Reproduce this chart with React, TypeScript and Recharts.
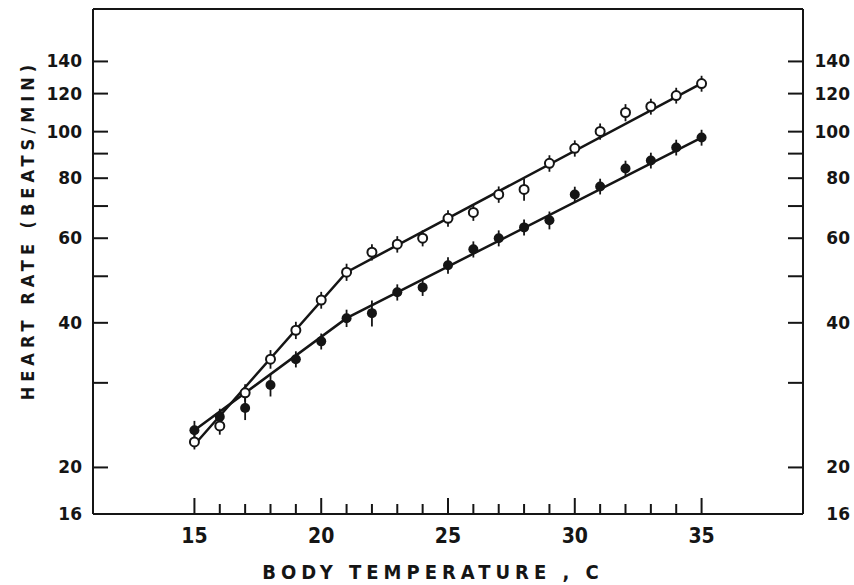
import React from "react";
import {
  ComposedChart,
  Scatter,
  XAxis,
  YAxis,
  ErrorBar,
  ReferenceLine,
  Label,
} from "recharts";

// body temperature (C) for every measured point
const temps = [15, 16, 17, 18, 19, 20, 21, 22, 23, 24, 25, 26, 27, 28, 29, 30, 31, 32, 33, 34, 35];

// open circles
const openRate = [22.6, 24.4, 28.6, 33.6, 38.6, 44.6, 51.0, 56.1, 58.3, 60.0, 66.0, 67.9, 74.0, 75.8, 85.9, 92.3, 100.1, 109.6, 112.8, 118.9, 125.9];
const openErr = [0.8, 1.0, 1.2, 1.5, 1.6, 1.8, 2.1, 2.2, 2.3, 2.3, 2.6, 2.7, 2.9, 4.0, 3.4, 3.6, 3.9, 4.5, 4.3, 4.5, 4.8];

// filled circles
const filledRate = [23.9, 25.5, 26.6, 29.7, 33.6, 36.6, 40.9, 41.9, 46.3, 47.4, 52.7, 56.9, 60.0, 63.2, 65.4, 74.0, 76.9, 83.8, 87.1, 92.7, 97.2];
const filledErr = [1.1, 1.0, 1.5, 1.6, 1.3, 1.4, 1.7, 2.6, 1.8, 1.9, 2.1, 2.2, 2.3, 2.4, 2.8, 2.8, 2.9, 3.2, 3.3, 3.5, 3.7];

// fitted regression lines (break near 21 C)
const openFitTemp = [15, 21, 35];
const openFitRate = [22.3, 51.0, 126.0];
const filledFitTemp = [15, 21, 35];
const filledFitRate = [23.9, 40.9, 97.2];

const xTicks = [15, 16, 17, 18, 19, 20, 21, 22, 23, 24, 25, 26, 27, 28, 29, 30, 31, 32, 33, 34, 35];
const xLabelTicks = [15, 20, 25, 30, 35];
const yTicks = [16, 20, 30, 40, 50, 60, 70, 80, 90, 100, 120, 140];
const yLabelTicks = [16, 20, 40, 60, 80, 100, 120, 140];

const openData = temps.map((t, i) => ({ t, rate: openRate[i], err: openErr[i] }));
const filledData = temps.map((t, i) => ({ t, rate: filledRate[i], err: filledErr[i] }));
const openFit = openFitTemp.map((t, i) => ({ t, rate: openFitRate[i] }));
const filledFit = filledFitTemp.map((t, i) => ({ t, rate: filledFitRate[i] }));

const INK = "#151515";
const tickFont = "'DejaVu Sans', sans-serif";
const narrowFont = "'DejaVu Sans Condensed', 'Liberation Sans Narrow', 'Liberation Sans', sans-serif";

function XTick(props: any) {
  const { x, y, payload } = props;
  const major = xLabelTicks.includes(payload.value);
  return (
    <g>
      <line x1={x} x2={x} y1={y} y2={y - (major ? 16 : 10)} stroke={INK} strokeWidth={2} />
      {major && (
        <text x={x} y={y + 29} textAnchor="middle" fill={INK} fontFamily={narrowFont} fontStretch="condensed" fontWeight={700} fontSize={21}>
          {payload.value}
        </text>
      )}
    </g>
  );
}

function LeftTick(props: any) {
  const { x, y, payload } = props;
  const labeled = yLabelTicks.includes(payload.value);
  return (
    <g>
      {payload.value !== 16 && <line x1={x} x2={x + 15} y1={y} y2={y} stroke={INK} strokeWidth={2} />}
      {labeled && (
        <text x={x - 11} y={y + 6} textAnchor="end" fill={INK} fontFamily={tickFont} fontWeight={700} fontSize={17}>
          {payload.value}
        </text>
      )}
    </g>
  );
}

function RightTick(props: any) {
  const { x, y, payload } = props;
  const labeled = yLabelTicks.includes(payload.value);
  return (
    <g>
      {payload.value !== 16 && <line x1={x - 15} x2={x} y1={y} y2={y} stroke={INK} strokeWidth={2} />}
      {labeled && (
        <text x={x + 47} y={y + 6} textAnchor="end" fill={INK} fontFamily={tickFont} fontWeight={700} fontSize={17}>
          {payload.value}
        </text>
      )}
    </g>
  );
}

function XTitle(props: any) {
  const vb = props.viewBox;
  return (
    <text
      x={vb.x + vb.width / 2 - 15}
      y={vb.y + 65}
      textAnchor="middle"
      fill={INK}
      fontFamily={narrowFont}
      fontStretch="condensed"
      fontWeight={700}
      fontSize={20}
      style={{ letterSpacing: 5 }}
    >
      BODY TEMPERATURE , C
    </text>
  );
}

function YTitle(props: any) {
  const vb = props.viewBox;
  const cx = vb.x + 27;
  const cy = vb.y + 221;
  return (
    <text
      x={cx}
      y={cy}
      transform={`rotate(-90, ${cx}, ${cy})`}
      textAnchor="middle"
      dominantBaseline="central"
      fill={INK}
      fontFamily={narrowFont}
      fontStretch="condensed"
      fontWeight={700}
      fontSize={18}
      style={{ letterSpacing: 5 }}
    >
      HEART RATE (BEATS/MIN)
    </text>
  );
}

const noDot = () => <g />;
const openDot = (p: any) => <circle cx={p.cx} cy={p.cy} r={4.5} fill="#fff" stroke={INK} strokeWidth={2} />;
const filledDot = (p: any) => <circle cx={p.cx} cy={p.cy} r={5} fill={INK} />;

export default function App() {
  return (
    <div style={{ position: "absolute", left: 0, top: 0, background: "#fff" }}>
      <ComposedChart width={854} height={585} margin={{ top: 9, right: 0, bottom: 0, left: 0 }}>
        <XAxis
          type="number"
          dataKey="t"
          domain={[11, 39]}
          ticks={xTicks}
          interval={0}
          allowDataOverflow
          height={71}
          tickSize={0}
          tickMargin={0}
          tickLine={false}
          axisLine={{ stroke: INK, strokeWidth: 2 }}
          tick={<XTick />}
        >
          <Label content={<XTitle />} />
        </XAxis>
        <YAxis
          type="number"
          dataKey="rate"
          scale="log"
          domain={[16, 180]}
          ticks={yTicks}
          interval={0}
          allowDataOverflow
          width={93}
          tickSize={0}
          tickMargin={0}
          tickLine={false}
          axisLine={{ stroke: INK, strokeWidth: 2 }}
          tick={<LeftTick />}
        >
          <Label content={<YTitle />} />
        </YAxis>
        <YAxis
          yAxisId="right"
          orientation="right"
          type="number"
          dataKey="rate"
          scale="log"
          domain={[16, 180]}
          ticks={yTicks}
          interval={0}
          allowDataOverflow
          width={51}
          tickSize={0}
          tickMargin={0}
          tickLine={false}
          axisLine={{ stroke: INK, strokeWidth: 2 }}
          tick={<RightTick />}
        />
        <ReferenceLine y={180} stroke={INK} strokeWidth={2} />
        <Scatter data={openFit} line={{ stroke: INK, strokeWidth: 2.5 }} shape={noDot} isAnimationActive={false} />
        <Scatter data={filledFit} line={{ stroke: INK, strokeWidth: 2.5 }} shape={noDot} isAnimationActive={false} />
        <Scatter data={openData} shape={openDot} isAnimationActive={false}>
          <ErrorBar dataKey="err" direction="y" width={0} stroke={INK} strokeWidth={1.8} />
        </Scatter>
        <Scatter data={filledData} shape={filledDot} isAnimationActive={false}>
          <ErrorBar dataKey="err" direction="y" width={0} stroke={INK} strokeWidth={1.8} />
        </Scatter>
      </ComposedChart>
    </div>
  );
}
